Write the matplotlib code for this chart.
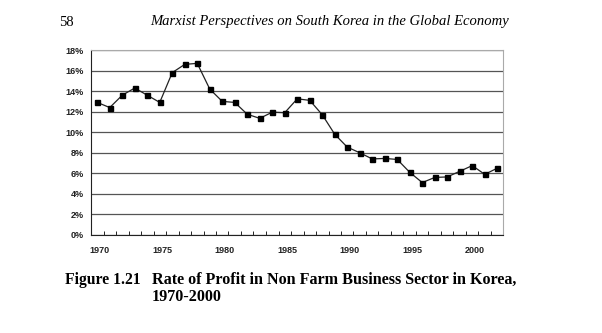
import numpy as np
import matplotlib.pyplot as plt

years = list(range(1970, 2003))
profit = [12.9, 12.4, 13.6, 14.3, 13.6, 12.9, 15.8, 16.6, 16.7, 14.2,
          13.0, 12.9, 11.75, 11.35, 11.95, 11.9, 13.25, 13.1, 11.7, 9.8,
          8.55, 8.0, 7.4, 7.45, 7.35, 6.1, 5.1, 5.6, 5.65, 6.2,
          6.75, 5.9, 6.5]
yticks = [0, 2, 4, 6, 8, 10, 12, 14, 16, 18]
xlabels = [1970, 1975, 1980, 1985, 1990, 1995, 2000]

fig = plt.figure(figsize=(6.02, 3.33), dpi=100)
ax = fig.add_axes([91 / 602, 1 - 235 / 333, 412.5 / 602, 185 / 333])

x = np.arange(len(years))
ax.plot(x, profit, color="#222222", lw=0.9, marker="s", ms=3.6,
        mfc="black", mec="black", zorder=3)

ax.set_xlim(-0.5, len(years) - 0.5)
ax.set_ylim(0, 18)
ax.set_yticks(yticks)
ax.set_yticklabels([f"{v}%" for v in yticks], fontfamily="Liberation Sans",
                   fontweight="bold", fontsize=6.5, color="#222222")
ax.yaxis.grid(True, color="#555555", lw=0.9)
ax.set_axisbelow(True)

ax.set_xticks([years.index(y) + 0.2 for y in xlabels])
ax.set_xticklabels([str(y) for y in xlabels], fontfamily="Liberation Sans",
                   fontweight="bold", fontsize=6.5, color="#222222")
ax.set_xticks(np.arange(0.5, len(years) - 0.5, 1), minor=True)
ax.tick_params(axis="x", which="major", length=0, pad=8)
ax.tick_params(axis="x", which="minor", length=3, width=0.7, direction="in",
               color="#222222")
ax.tick_params(axis="y", length=0, pad=5)

ax.spines["left"].set_color("#222222")
ax.spines["bottom"].set_color("#222222")
ax.spines["top"].set_color("#aaaaaa")
ax.spines["right"].set_color("#aaaaaa")
for s in ax.spines.values():
    s.set_linewidth(0.8)

fig.text(59 / 602, 1 - 22 / 333, "58", fontfamily="Liberation Serif",
         fontsize=10.5, va="center")
fig.text(150 / 602, 1 - 22 / 333,
         "Marxist Perspectives on South Korea in the Global Economy",
         fontfamily="Liberation Serif", style="italic", fontsize=10.5, va="center")
fig.text(65 / 602, 1 - 272 / 333, "Figure 1.21", fontfamily="Liberation Serif",
         fontweight="bold", fontsize=11.3, va="top")
fig.text(152 / 602, 1 - 272 / 333,
         "Rate of Profit in Non Farm Business Sector in Korea,\n1970-2000",
         fontfamily="Liberation Serif", fontweight="bold", fontsize=11.6,
         va="top", linespacing=1.12)

fig.savefig("out.png", dpi=100)
